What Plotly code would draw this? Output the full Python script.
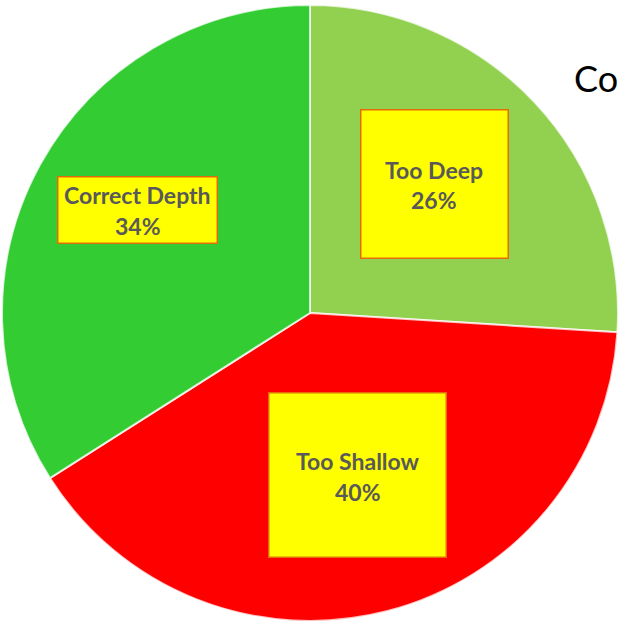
import plotly.graph_objects as go

categories = ["Too Deep", "Too Shallow", "Correct Depth"]
values = [26, 40, 34]
colors = ["#92D050", "#FF0000", "#33CC33"]
title_text = "Co"

W, H = 618, 621

fig = go.Figure(go.Pie(
    labels=categories,
    values=values,
    sort=False,
    direction="clockwise",
    rotation=0,
    textinfo="none",
    hoverinfo="label+percent",
    marker=dict(colors=colors, line=dict(color="rgba(255,255,255,0.75)", width=2)),
    domain=dict(x=[2 / W, 1.0], y=[0.0, 616 / H]),
    showlegend=False,
))

# label boxes: (center x, center y, width, height) in pixels from top-left
boxes = {
    "Too Deep": (434.5, 184, 146, 147),
    "Too Shallow": (357.5, 475, 176, 163),
    "Correct Depth": (137.5, 210, 158, 65),
}
text_offsets = {
    "Too Deep": (-14, 16),
    "Too Shallow": (-14, 17),
    "Correct Depth": (-15, 16),
}

font_family = "Lato, 'Open Sans', sans-serif"
total = sum(values)
annotations = []
for cat, val in zip(categories, values):
    cx, cy, bw, bh = boxes[cat]
    annotations.append(dict(
        x=cx / W, y=1 - cy / H, xref="paper", yref="paper",
        xanchor="center", yanchor="middle", showarrow=False,
        text=" ", width=bw, height=bh, bgcolor="#FFFF00",
        bordercolor="#E46C0A", borderwidth=1.5, borderpad=0,
    ))
    o1, o2 = text_offsets[cat]
    annotations.append(dict(
        x=cx / W, y=1 - (cy + o1) / H, xref="paper", yref="paper",
        xanchor="center", yanchor="middle", showarrow=False,
        text=f"<b>{cat}</b>",
        font=dict(family=font_family, size=23, color="#595959"),
    ))
    annotations.append(dict(
        x=cx / W, y=1 - (cy + o2) / H, xref="paper", yref="paper",
        xanchor="center", yanchor="middle", showarrow=False,
        text=f"<b>{round(100 * val / total)}%</b>",
        font=dict(family=font_family, size=23, color="#595959"),
    ))

annotations.append(dict(
    x=572 / W, y=1 - 78 / H, xref="paper", yref="paper",
    xanchor="left", yanchor="middle", showarrow=False,
    text=title_text,
    font=dict(family=font_family, size=36, color="#000000"),
))

fig.update_layout(
    width=W, height=H,
    margin=dict(l=0, r=0, t=0, b=0),
    paper_bgcolor="white",
    plot_bgcolor="white",
    annotations=annotations,
)

fig.write_html("out.html")
